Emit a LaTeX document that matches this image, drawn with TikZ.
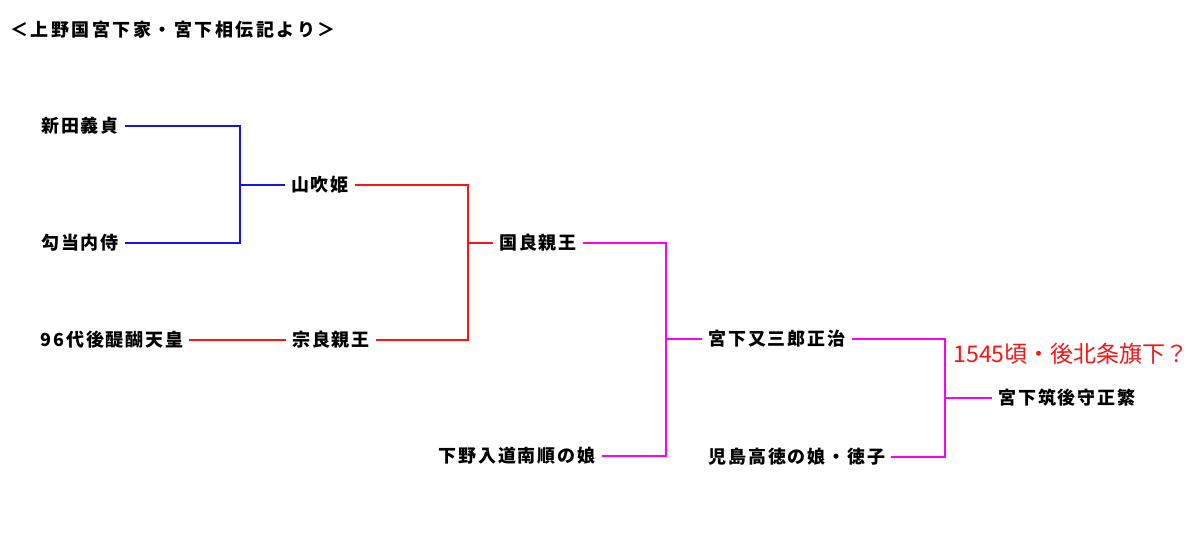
\documentclass[tikz,border=0pt]{standalone}
\usepackage{fontspec}
\newfontfamily\jp{Noto Sans CJK JP}[LetterSpace=10]
\newfontfamily\jptitle{Noto Sans CJK JP}[LetterSpace=14]
\newfontfamily\jpr{Noto Sans CJK JP}
\definecolor{lblue}{RGB}{20,20,235}
\definecolor{lred}{RGB}{250,20,20}
\definecolor{lmag}{RGB}{250,0,250}
\begin{document}
\begin{tikzpicture}[x=1pt,y=-1pt,
  person/.style={font=\jp\bfseries\fontsize{18}{21}\selectfont, inner xsep=6pt, inner ysep=0pt, anchor=center},
  bline/.style={draw=lblue, line width=2.3pt},
  rline/.style={draw=lred, line width=2.3pt},
  mline/.style={draw=lmag, line width=2.3pt}]
\useasboundingbox[fill=white] (0,0) rectangle (1200,536);
\node[font=\jptitle\bfseries\fontsize{18}{21}\selectfont, anchor=west, inner sep=0pt] (title) at (10,30) {＜上野国宮下家・宮下相伝記より＞};
\node[person] (nitta) at (80,126) {新田義貞};
\node[person] (koto) at (80,243) {勾当内侍};
\node[person] (yama) at (320,185) {山吹姫};
\node[person] (kuni) at (538,243) {国良親王};
\node[person] (godaigo) at (112,340) {96代後醍醐天皇};
\node[person] (mune) at (331,340) {宗良親王};
\node[person] (shimo) at (517,456) {下野入道南順の娘};
\node[person] (mata) at (777,339) {宮下又三郎正治};
\node[person] (koji) at (797,457) {児島高徳の娘・徳子};
\node[person] (chiku) at (1067,398) {宮下筑後守正繁};
\node[font=\jpr\fontsize{23}{27}\selectfont, text=lred, inner sep=0pt] (note) at (1071,354) {1545頃・後北条旗下？};
\coordinate (jb) at (240,185);
\coordinate (jr) at (468,243);
\coordinate (jm) at (666,339);
\coordinate (jk) at (945,398);
\draw[bline] (nitta.east) -| (jb);
\draw[bline] (koto.east) -| (jb);
\draw[bline] (jb) -- (yama.west);
\draw[rline] (yama.east) -| (jr);
\draw[rline] (mune.east) -| (jr);
\draw[rline] (jr) -- (kuni.west);
\draw[rline] (godaigo.east) -- (mune.west);
\draw[mline] (kuni.east) -| (jm);
\draw[mline] (shimo.east) -| (jm);
\draw[mline] (jm) -- (mata.west);
\draw[mline] (mata.east) -| (jk);
\draw[mline] (koji.east) -| (jk);
\draw[mline] (jk) -- (chiku.west);
\end{tikzpicture}
\end{document}
